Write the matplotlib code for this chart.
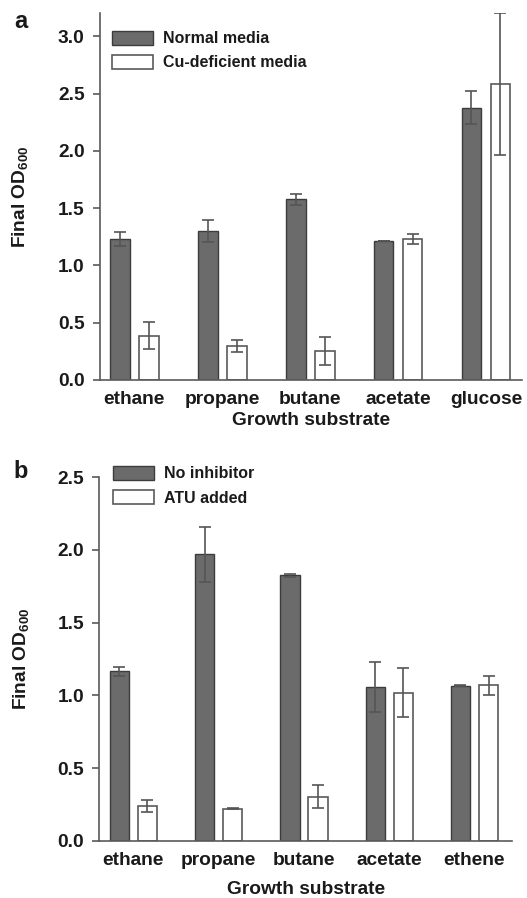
import matplotlib
matplotlib.use("Agg")
import matplotlib.pyplot as plt
import numpy as np

plt.rcParams['font.family'] = ['Liberation Sans', 'DejaVu Sans']
plt.rcParams['font.weight'] = 'bold'
plt.rcParams['axes.labelweight'] = 'bold'
plt.rcParams['mathtext.fontset'] = 'custom'
plt.rcParams['mathtext.rm'] = 'Liberation Sans:bold'
plt.rcParams['mathtext.default'] = 'rm'

# ---- data panel a ----
cats_a = ["ethane", "propane", "butane", "acetate", "glucose"]
normal_a = [1.23, 1.30, 1.576, 1.21, 2.375]
normal_err_a = [0.06, 0.095, 0.045, 0.0, 0.145]
cu_a = [0.387, 0.297, 0.253, 1.23, 2.58]
cu_err_a = [0.12, 0.055, 0.125, 0.04, 0.62]
legend_a = ["Normal media", "Cu-deficient media"]

# ---- data panel b ----
cats_b = ["ethane", "propane", "butane", "acetate", "ethene"]
noinh_b = [1.165, 1.97, 1.825, 1.057, 1.066]
noinh_err_b = [0.03, 0.19, 0.01, 0.175, 0.004]
atu_b = [0.24, 0.22, 0.303, 1.018, 1.068]
atu_err_b = [0.04, 0.003, 0.08, 0.17, 0.065]
legend_b = ["No inhibitor", "ATU added"]

yticks_a = [0.0, 0.5, 1.0, 1.5, 2.0, 2.5, 3.0]
yticks_b = [0.0, 0.5, 1.0, 1.5, 2.0, 2.5]

W, H = 527, 898
fig = plt.figure(figsize=(W / 100, H / 100), dpi=100)

DARK = "#6b6b6b"
DARK_EDGE = "#3c3c3c"
WHITE_EDGE = "#5a5a5a"
ERR = "#555555"
TXT = "#1a1a1a"
SPINE = "#5a5a5a"


def px_axes(l, r, t, b):
    return fig.add_axes([l / W, 1 - b / H, (r - l) / W, (b - t) / H])


def draw(ax, cats, v1, e1, v2, e2, labels, ylim, yticks, xlim, leg_anchor,
         ylab_x, xlab_y):
    x = np.arange(len(cats))
    bw = 0.226
    off = 0.165
    ax.bar(x - off, v1, bw, color=DARK, edgecolor=DARK_EDGE, linewidth=1.0,
           label=labels[0], zorder=2)
    ax.bar(x + off, v2, bw, color="white", edgecolor=WHITE_EDGE, linewidth=1.2,
           label=labels[1], zorder=2)
    ax.errorbar(x - off, v1, yerr=e1, fmt="none", ecolor=ERR, elinewidth=1.2,
                capsize=4, capthick=1.2, zorder=3)
    ax.errorbar(x + off, v2, yerr=e2, fmt="none", ecolor=ERR, elinewidth=1.2,
                capsize=4, capthick=1.2, zorder=3)
    ax.set_xlim(*xlim)
    ax.set_ylim(*ylim)
    ax.set_yticks(yticks)
    ax.set_yticklabels([f"{t:.1f}" for t in yticks])
    ax.set_xticks(x)
    ax.set_xticklabels(cats)
    for s in ["top", "right"]:
        ax.spines[s].set_visible(False)
    for s in ["left", "bottom"]:
        ax.spines[s].set_color(SPINE)
        ax.spines[s].set_linewidth(1.2)
    ax.tick_params(axis="y", direction="out", length=5, width=1.2,
                   color=SPINE, labelsize=13.8, pad=6, labelcolor=TXT)
    ax.tick_params(axis="x", length=0, labelsize=13.8, pad=8, labelcolor=TXT)
    ax.set_ylabel("Final OD$_{600}$", fontsize=13.8, color=TXT,
                  fontweight="bold")
    ax.yaxis.set_label_coords(ylab_x, 0.5)
    ax.set_xlabel("Growth substrate", fontsize=13.8, color=TXT,
                  fontweight="bold")
    ax.xaxis.set_label_coords(0.5, xlab_y)
    ax.legend(loc="upper left", bbox_to_anchor=leg_anchor, frameon=False,
              fontsize=11.5, handlelength=2.6, handleheight=0.95,
              handletextpad=0.6, labelspacing=0.55, borderpad=0,
              borderaxespad=0, labelcolor=TXT)


axa = px_axes(100, 522, 13.3, 380)
draw(axa, cats_a, normal_a, normal_err_a, cu_a, cu_err_a, legend_a,
     (0, 3.2), yticks_a, (-0.39, 4.41), (0.028, 0.952), -0.165, -0.086)

axb = px_axes(99.3, 512, 477.3, 840.7)
draw(axb, cats_b, noinh_b, noinh_err_b, atu_b, atu_err_b, legend_b,
     (0, 2.5), yticks_b, (-0.40, 4.44), (0.032, 1.031), -0.165, -0.112)

fig.text(14 / W, 1 - 21 / H, "a", fontsize=17, fontweight="bold", color=TXT,
         ha="left", va="center")
fig.text(13 / W, 1 - 471 / H, "b", fontsize=17, fontweight="bold", color=TXT,
         ha="left", va="center")

fig.savefig("out.png", dpi=100, facecolor="white")
